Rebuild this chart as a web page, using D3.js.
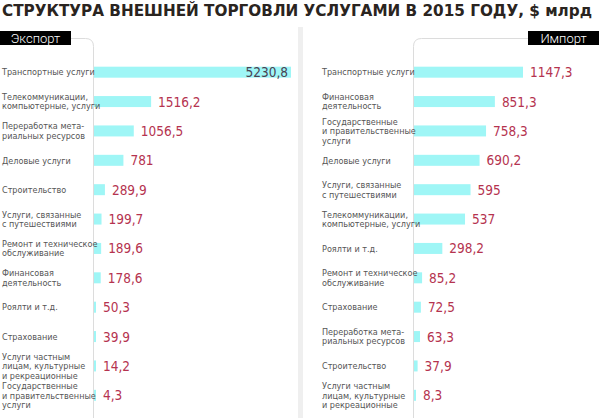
<!DOCTYPE html>
<html>
<head>
<meta charset="utf-8">
<script src="https://cdn.jsdelivr.net/npm/d3@7"></script>
<style>
  body { margin: 0; background: #fff; }
  svg { display: block; }
</style>
</head>
<body>
<div class="chart"></div>
<script>
const title = "СТРУКТУРА ВНЕШНЕЙ ТОРГОВЛИ УСЛУГАМИ В 2015 ГОДУ, $ млрд"

const exportNames = [
  ["Транспортные услуги"],
  ["Телекоммуникации,", "компьютерные, услуги"],
  ["Переработка мета-", "риальных ресурсов"],
  ["Деловые услуги"],
  ["Строительство"],
  ["Услуги, связанные", "с путешествиями"],
  ["Ремонт и техническое", "обслуживание"],
  ["Финансовая", "деятельность"],
  ["Роялти и т.д."],
  ["Страхование"],
  ["Услуги частным", "лицам, культурные", "и рекреационные"],
  ["Государственные", "и правительственные", "услуги"]
]
const exportValues = [5230.8, 1516.2, 1056.5, 781, 289.9, 199.7, 189.6, 178.6, 50.3, 39.9, 14.2, 4.3]

const importNames = [
  ["Транспортные услуги"],
  ["Финансовая", "деятельность"],
  ["Государственные", "и правительственные", "услуги"],
  ["Деловые услуги"],
  ["Услуги, связанные", "с путешествиями"],
  ["Телекоммуникации,", "компьютерные, услуги"],
  ["Роялти и т.д."],
  ["Ремонт и техническое", "обслуживание"],
  ["Страхование"],
  ["Переработка мета-", "риальных ресурсов"],
  ["Строительство"],
  ["Услуги частным", "лицам, культурные", "и рекреационные"]
]
const importValues = [1147.3, 851.3, 758.3, 690.2, 595, 537, 298.2, 85.2, 72.5, 63.3, 37.9, 8.3]

const width = 600, height = 418
const cond = "'DejaVu Sans Condensed', 'DejaVu Sans', sans-serif"
const fmt = v => String(v).replace(".", ",")

const svg = d3.select(".chart").append("svg")
  .attr("width", width)
  .attr("height", height)

svg.append("text")
  .attr("x", 2)
  .attr("y", 16)
  .attr("font-family", cond)
  .attr("font-weight", "bold")
  .attr("font-size", 16.5)
  .attr("fill", "#2a2420")
  .attr("textLength", 590)
  .attr("lengthAdjust", "spacingAndGlyphs")
  .text(title)

// center divider
svg.append("rect")
  .attr("x", 298).attr("y", 27)
  .attr("width", 5).attr("height", height - 27)
  .attr("fill", "#efefef")

const yScale = d3.scaleBand()
  .domain(d3.range(12))
  .range([57.5, 410])
  .paddingInner(0.6)
  .paddingOuter(0.3)

function panel(opts) {
  const g = svg.append("g")
  const x = d3.scaleLinear().domain([0, opts.max]).range([opts.x0, opts.x1])

  // tab
  g.append("rect")
    .attr("x", opts.tabX).attr("y", 31)
    .attr("width", 71).attr("height", 14)
    .attr("fill", "#000")
  g.append("text")
    .attr("x", opts.tabX + 35.5).attr("y", 42.5)
    .attr("text-anchor", "middle")
    .attr("font-family", "'Roboto', sans-serif")
    .attr("font-weight", 300)
    .attr("font-size", 13)
    .attr("fill", "#fff")
    .text(opts.tab)

  // frame line with rounded corner
  const r = 8, top = 38.5, lx = opts.x0 - 0.5
  const path = opts.side === "left"
    ? `M${opts.tabX + 71},${top} H${lx - r} Q${lx},${top} ${lx},${top + r} V${height}`
    : `M${opts.tabX},${top} H${lx + r} Q${lx},${top} ${lx},${top + r} V${height}`
  g.append("path")
    .attr("d", path)
    .attr("fill", "none")
    .attr("stroke", "#dcdcdc")
    .attr("stroke-width", 1)

  const rows = g.selectAll(".row")
    .data(opts.values.map((v, i) => ({v, name: opts.names[i], i})))
    .enter().append("g")

  rows.append("rect")
    .attr("x", opts.x0)
    .attr("y", d => yScale(d.i) + yScale.bandwidth() / 2 - 5.5)
    .attr("width", d => Math.max(2, x(d.v) - opts.x0))
    .attr("height", 11)
    .attr("fill", "#9ff6f6")

  rows.append("text")
    .attr("font-family", cond)
    .attr("font-size", 9)
    .attr("fill", "#555")
    .attr("x", opts.labelX)
    .attr("y", d => yScale(d.i) + yScale.bandwidth() / 2 - (d.name.length - 1) * 4.7 + 3.2)
    .selectAll("tspan")
    .data(d => d.name)
    .enter().append("tspan")
    .attr("x", opts.labelX)
    .attr("dy", (d, j) => j ? 9.4 : 0)
    .text(d => d)

  rows.append("text")
    .attr("font-family", cond)
    .attr("font-size", 13.5)
    .attr("font-weight", 500)
    .attr("y", d => yScale(d.i) + yScale.bandwidth() / 2 + 5)
    .attr("x", d => opts.inside && d.i === 0 ? x(d.v) - 3 : opts.x0 + Math.max(2, x(d.v) - opts.x0) + 7)
    .attr("text-anchor", d => opts.inside && d.i === 0 ? "end" : "start")
    .attr("fill", d => opts.inside && d.i === 0 ? "#4a4252" : "#b5334f")
    .text(d => fmt(d.v))
}

panel({
  side: "left", tab: "Экспорт", tabX: 0,
  names: exportNames, values: exportValues, max: 5230.8,
  x0: 94, x1: 291, labelX: 2, inside: true
})

panel({
  side: "right", tab: "Импорт", tabX: 528,
  names: importNames, values: importValues, max: 1147.3,
  x0: 414, x1: 523, labelX: 322, inside: false
})
</script>
</body>
</html>
